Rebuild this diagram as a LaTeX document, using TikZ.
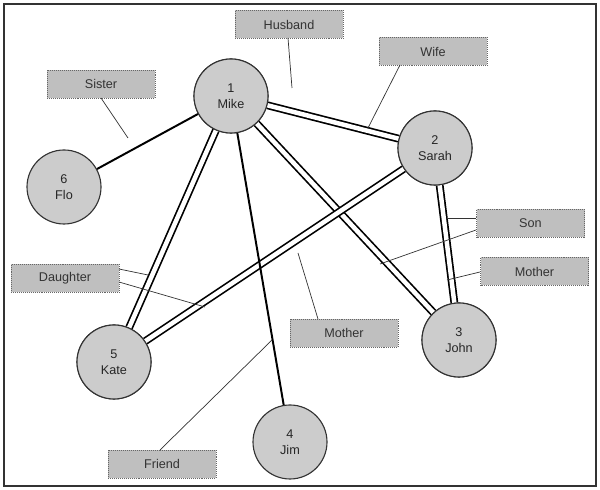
\documentclass[tikz,border=0pt]{standalone}
\usepackage{fontspec}
\setmainfont{Liberation Sans}
\begin{document}
\begin{tikzpicture}[x=0.025cm,y=-0.025cm,
  person/.style={circle,draw=black!80,fill=black!20,line width=0.8pt,minimum size=74*0.025cm,inner sep=0pt,align=center,font=\small,text=black!85},
  lbl/.style={draw=black!60,densely dotted,fill=black!25,minimum width=108*0.025cm,minimum height=28*0.025cm,inner sep=0pt,font=\small,text=black!80},
  lblb/.style={draw=black!55,line width=0.5pt},
  rel/.style={line width=1.4pt},
  drel/.style={line width=1.2pt,double=white,double distance=3.2pt},
  ptr/.style={line width=0.5pt,black!80}]
\useasboundingbox (0,0) rectangle (600,490);
\draw[black!80,line width=0.8pt] (4,4) rectangle (596,486);
\node[person] (mike) at (231,96) {1\\Mike};
\node[person] (sarah) at (435,148) {2\\Sarah};
\node[person] (flo) at (64,187) {6\\Flo};
\node[person] (john) at (459,340) {3\\John};
\node[person] (kate) at (114,362) {5\\Kate};
\node[person] (jim) at (290,442) {4\\Jim};
\begin{scope}[on background layer/.style={}]
\end{scope}
\draw[drel] (mike) -- (sarah);
\draw[drel] (mike) -- (kate);
\draw[drel] (mike) -- (john);
\draw[drel] (sarah) -- (kate);
\draw[drel] (sarah) -- (john);
\draw[rel] (mike) -- (flo);
\draw[rel] (mike) -- (jim);
\node[person] at (231,96) {1\\Mike};
\node[person] at (435,148) {2\\Sarah};
\node[person] at (459,340) {3\\John};
\node[person] at (114,362) {5\\Kate};
\node[lbl] (husband) at (289,24.5) {Husband};
\node[lbl] (wife) at (433,51.5) {Wife};
\node[lbl] (sister) at (101,84) {Sister};
\node[lbl] (son) at (530.5,223.5) {Son};
\node[lbl] (mother1) at (534.5,271.5) {Mother};
\node[lbl] (daughter) at (65,278.5) {Daughter};
\node[lbl] (mother2) at (344,333) {Mother};
\node[lbl] (friend) at (162,464) {Friend};
\coordinate (ph) at (292,88);
\coordinate (pw) at (368,128);
\coordinate (ps) at (128,138);
\coordinate (ps1) at (447,218);
\coordinate (ps2) at (380,264);
\coordinate (pm1) at (447,280);
\coordinate (pd1) at (148,275);
\coordinate (pd2) at (205,307);
\coordinate (pm2) at (298,253);
\coordinate (pf) at (272,340);
\draw[ptr] (288,38) -- (ph);
\draw[ptr] (400,65) -- (pw);
\draw[ptr] (101,98) -- (ps);
\draw[ptr] (476,218) -- (ps1);
\draw[ptr] (476,230) -- (ps2);
\draw[ptr] (480,272) -- (pm1);
\draw[ptr] (119,269) -- (pd1);
\draw[ptr] (119,282) -- (pd2);
\draw[ptr] (318,319) -- (pm2);
\draw[ptr] (160,450) -- (pf);
\end{tikzpicture}
\end{document}
